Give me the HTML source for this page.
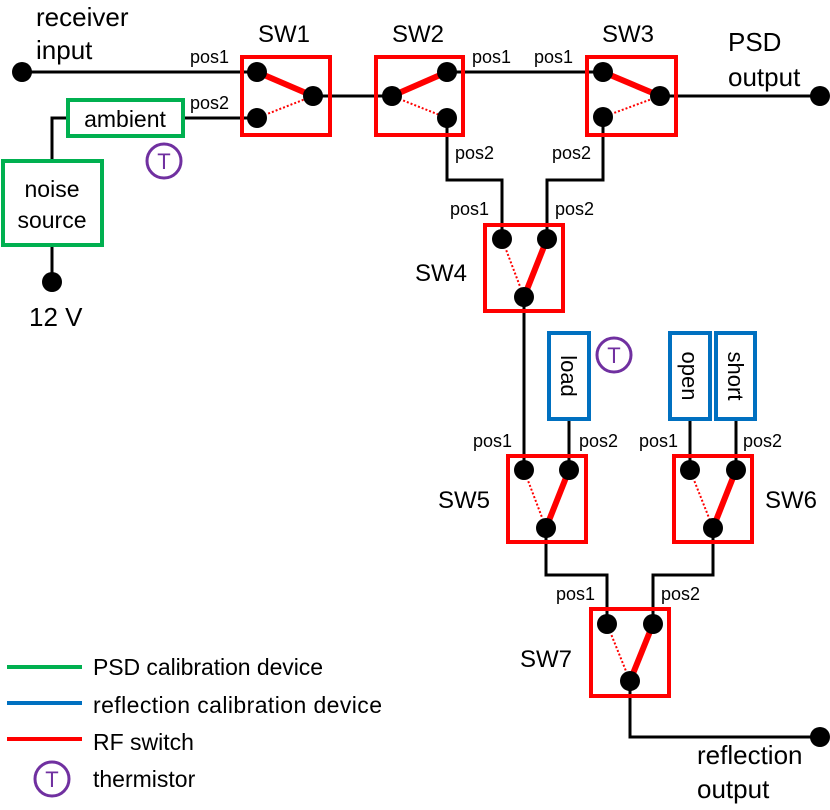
<!DOCTYPE html>
<html><head><style>body{margin:0;background:#fff}svg{display:block}text{font-family:"Liberation Sans",sans-serif;fill:#000}</style></head><body>
<svg width="830" height="810" viewBox="0 0 830 810" xmlns="http://www.w3.org/2000/svg">
<g stroke="#000" stroke-width="3" fill="none">
<path d="M22 72H257"/><path d="M183 118H257"/><path d="M68 118H52V160"/><path d="M52 245V282"/>
<path d="M313 96H392"/><path d="M447 72H603"/><path d="M660 96H820"/>
<path d="M447 118V180H502V239"/><path d="M603 117V180H547V239"/>
<path d="M524 297V470"/><path d="M569 419V470"/><path d="M690 419V470"/><path d="M736 419V470"/>
<path d="M546 528V575H607V624"/><path d="M713 528V575H653V624"/>
<path d="M630 681V737H820"/>
</g>
<g stroke="#f00" stroke-width="4" fill="none">
<rect x="242" y="57" width="88" height="78"/><rect x="376" y="57" width="87" height="78"/><rect x="587" y="57" width="89" height="78"/>
<rect x="485" y="225" width="78" height="86"/><rect x="508" y="456" width="78" height="86"/><rect x="674" y="456" width="78" height="86"/><rect x="591" y="609" width="78" height="87"/>
</g>
<g stroke="#f00" stroke-width="6">
<line x1="257" y1="72" x2="313" y2="96"/><line x1="392" y1="96" x2="447" y2="72"/><line x1="603" y1="72" x2="660" y2="96"/>
<line x1="547" y1="239" x2="524" y2="297"/><line x1="569" y1="470" x2="546" y2="528"/><line x1="736" y1="470" x2="713" y2="528"/><line x1="653" y1="624" x2="630" y2="681"/>
</g>
<g stroke="#f00" stroke-width="2" stroke-dasharray="2,2">
<line x1="257" y1="118" x2="313" y2="96"/><line x1="392" y1="96" x2="447" y2="118"/><line x1="603" y1="117" x2="660" y2="96"/>
<line x1="502" y1="239" x2="524" y2="297"/><line x1="524" y1="470" x2="546" y2="528"/><line x1="690" y1="470" x2="713" y2="528"/><line x1="607" y1="624" x2="630" y2="681"/>
</g>
<g fill="#000">
<circle cx="22" cy="72" r="10"/><circle cx="52" cy="282" r="10"/><circle cx="820" cy="96" r="10"/><circle cx="820" cy="737" r="10"/>
<circle cx="257" cy="72" r="10"/><circle cx="257" cy="118" r="10"/><circle cx="313" cy="96" r="10"/>
<circle cx="392" cy="96" r="10"/><circle cx="447" cy="72" r="10"/><circle cx="447" cy="118" r="10"/>
<circle cx="603" cy="72" r="10"/><circle cx="603" cy="117" r="10"/><circle cx="660" cy="96" r="10"/>
<circle cx="502" cy="239" r="10"/><circle cx="547" cy="239" r="10"/><circle cx="524" cy="297" r="10"/>
<circle cx="524" cy="470" r="10"/><circle cx="569" cy="470" r="10"/><circle cx="546" cy="528" r="10"/>
<circle cx="690" cy="470" r="10"/><circle cx="736" cy="470" r="10"/><circle cx="713" cy="528" r="10"/>
<circle cx="607" cy="624" r="10"/><circle cx="653" cy="624" r="10"/><circle cx="630" cy="681" r="10"/>
</g>
<g stroke="#00b050" stroke-width="4" fill="#fff"><rect x="68" y="100" width="115" height="36"/><rect x="3" y="161" width="99" height="84"/></g>
<g stroke="#0070c0" stroke-width="4" fill="#fff"><rect x="549" y="333" width="40" height="86"/><rect x="670" y="333" width="40" height="86"/><rect x="716" y="333" width="39" height="86"/></g>
<g stroke="#7030a0" stroke-width="3" fill="none"><circle cx="164" cy="161" r="17"/><circle cx="614" cy="355" r="17"/><circle cx="52" cy="779" r="17"/></g>
<g font-size="22" text-anchor="middle"><text x="164" y="169" style="fill:#7030a0">T</text><text x="614" y="363" style="fill:#7030a0">T</text><text x="52" y="787" style="fill:#7030a0">T</text></g>
<g font-size="26">
<text x="36" y="26">receiver</text><text x="36" y="59">input</text>
<text x="258" y="42" font-size="24">SW1</text><text x="392" y="42" font-size="24">SW2</text><text x="602" y="42" font-size="24">SW3</text>
<text x="728" y="51">PSD</text><text x="728" y="86">output</text>
<text x="415" y="281" font-size="24">SW4</text><text x="438" y="508" font-size="24">SW5</text><text x="765" y="508" font-size="24">SW6</text><text x="520" y="667" font-size="24">SW7</text>
<text x="697" y="764">reflection</text><text x="697" y="798">output</text>
<text x="29" y="326">12 V</text>
<text x="125" y="127" text-anchor="middle" font-size="23">ambient</text>
<text x="52" y="197" text-anchor="middle" font-size="23">noise</text><text x="52" y="228" text-anchor="middle" font-size="23">source</text>
</g>
<g font-size="22">
<text transform="translate(561,376) rotate(90)" text-anchor="middle">load</text>
<text transform="translate(682,376) rotate(90)" text-anchor="middle">open</text>
<text transform="translate(728,376) rotate(90)" text-anchor="middle">short</text>
</g>
<g font-size="18">
<text x="190" y="63">pos1</text><text x="190" y="109">pos2</text>
<text x="472" y="63">pos1</text><text x="534" y="63">pos1</text>
<text x="455" y="159">pos2</text><text x="552" y="159">pos2</text>
<text x="450" y="215">pos1</text><text x="555" y="215">pos2</text>
<text x="473" y="447">pos1</text><text x="579" y="447">pos2</text>
<text x="639" y="447">pos1</text><text x="743" y="447">pos2</text>
<text x="556" y="600">pos1</text><text x="661" y="600">pos2</text>
</g>
<g stroke-width="4"><line x1="7" y1="667" x2="82" y2="667" stroke="#00b050"/><line x1="7" y1="703" x2="82" y2="703" stroke="#0070c0"/><line x1="7" y1="739" x2="82" y2="739" stroke="#f00"/></g>
<g font-size="23"><text x="93" y="675" textLength="230">PSD calibration device</text><text x="93" y="713" textLength="289">reflection calibration device</text><text x="93" y="750">RF switch</text><text x="93" y="787">thermistor</text></g>
</svg>
</body></html>
